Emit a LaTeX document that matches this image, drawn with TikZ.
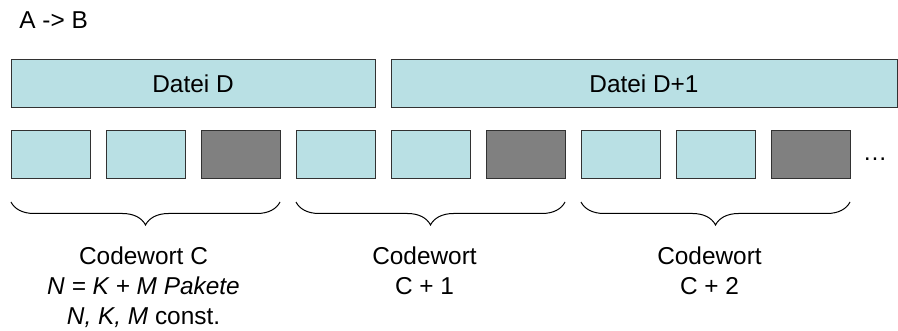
\documentclass[tikz,border=0pt]{standalone}
\usepackage{fontspec}
\setmainfont{Liberation Sans}
\usetikzlibrary{positioning, decorations.pathreplacing}
\definecolor{pktfill}{RGB}{185,224,228}
\definecolor{parityfill}{RGB}{128,128,128}
\definecolor{edge}{RGB}{50,50,50}
\begin{document}
\begin{tikzpicture}[x=0.5pt, y=-0.5pt,
  every node/.style={inner sep=0pt, font=\fontsize{12.2}{15}\selectfont},
  filebox/.style={draw=edge, fill=pktfill, line width=0.5pt,
                  minimum height=24pt},
  pkt/.style={draw=edge, fill=pktfill, line width=0.5pt, outer sep=0pt,
              minimum width=39.5pt, minimum height=24pt},
  parity/.style={pkt, fill=parityfill},
  cwbrace/.style={decorate, decoration={brace, mirror, amplitude=11.5pt},
                  line width=0.5pt},
  cwlabel/.style={align=center}]
\useasboundingbox (0,0) rectangle (898,331);
\node[anchor=base west] (title) at (19,29) {A -> B};
% Dateien
\node[filebox, minimum width=182pt] (file1) at (193,84) {Datei D};
\node[filebox, minimum width=253pt] (file2) at (644,84) {Datei D+1};
% Pakete
\node[pkt] (p1) at (50.5,155) {};
\node[pkt, right=8pt of p1] (p2) {};
\node[parity, right=8pt of p2] (p3) {};
\node[pkt, right=8pt of p3] (p4) {};
\node[pkt, right=8pt of p4] (p5) {};
\node[parity, right=8pt of p5] (p6) {};
\node[pkt, right=8pt of p6] (p7) {};
\node[pkt, right=8pt of p7] (p8) {};
\node[parity, right=8pt of p8] (p9) {};
\node[anchor=base] (more) at (875,161) {\ldots};
% Codewoerter
\draw[cwbrace] ([yshift=-11.5pt]p1.south west) -- ([yshift=-11.5pt]p3.south east);
\draw[cwbrace] ([yshift=-11.5pt]p4.south west) -- ([yshift=-11.5pt]p6.south east);
\draw[cwbrace] ([yshift=-11.5pt]p7.south west) -- ([yshift=-11.5pt]p9.south east);
\node[cwlabel, below=33.75pt of p2, xshift=-1pt] (cw1)
  {Codewort C\\\textit{N = K + M Pakete}\\\textit{N, K, M} const.};
\node[cwlabel, below=33.75pt of p5, xshift=-3pt] (cw2) {Codewort\\C + 1};
\node[cwlabel, below=33.75pt of p8, xshift=-3pt] (cw3) {Codewort\\C + 2};
\end{tikzpicture}
\end{document}
